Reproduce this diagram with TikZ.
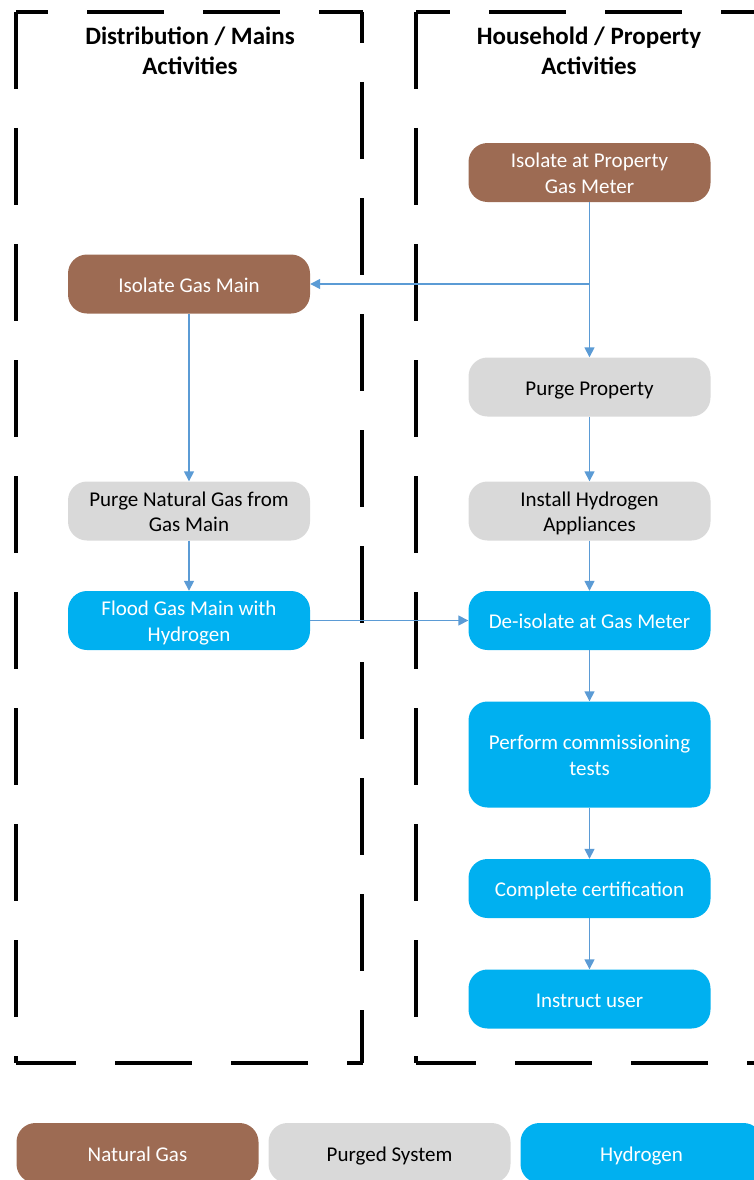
\documentclass[tikz,border=0pt]{standalone}
\usepackage{fontspec}
\setmainfont{Carlito}
\usetikzlibrary{arrows.meta}
\definecolor{ngbrown}{HTML}{9D6B53}
\definecolor{pgray}{HTML}{D9D9D9}
\definecolor{hcyan}{HTML}{00B0F0}
\definecolor{arrblue}{HTML}{5B9BD5}
\newcommand\onestrut{\rule[-5.5pt]{0pt}{27pt}}
\newcommand\topstrut{\rule{0pt}{21.5pt}}
\newcommand\botstrut{\rule[-5.5pt]{0pt}{5.5pt}}
\tikzset{
  stepbox/.style={rounded corners=19pt, minimum width=242pt, minimum height=59pt,
    align=center, inner sep=0pt, font=\fontsize{21}{25.5}\selectfont},
  ngbox/.style={stepbox, fill=ngbrown, text=white},
  pgbox/.style={stepbox, fill=pgray, text=black},
  hybox/.style={stepbox, fill=hcyan, text=white},
  arr/.style={draw=arrblue, line width=1.5pt, -{Triangle[length=10pt,width=10pt]}},
  border/.style={draw=black, line width=4pt, dash pattern=on 77pt off 39pt},
  titletext/.style={align=center, font=\fontsize{25}{30}\selectfont\bfseries}
}
\begin{document}
\begin{tikzpicture}[x=1pt,y=-1pt]
\useasboundingbox (0,0) rectangle (754,1180);
\clip (0,0) rectangle (754,1180);
% left dashed frame
\draw[border, dash phase=45] (16,12) -- (363,12);
\draw[border] (16,12) -- (16,1063);
\draw[border, dash phase=46] (362,12) -- (362,1063);
\draw[border, dash phase=17] (16,1063) -- (363,1063);
% right dashed frame
\draw[border, dash phase=43] (416,12) -- (780,12);
\draw[border] (416,12) -- (416,1063);
\draw[border, dash phase=17] (416,1063) -- (780,1063);
% titles
\node[titletext] (t1) at (190,51) {Distribution / Mains\\Activities};
\node[titletext] (t2) at (589,51) {Household / Property\\Activities};
% nodes
\node[ngbox] (m1) at (589.5,172.5) {\topstrut Isolate at Property\\\botstrut Gas Meter};
\node[ngbox] (igm) at (189,284) {\onestrut Isolate Gas Main};
\node[pgbox] (pp) at (589.5,387) {\onestrut Purge Property};
\node[pgbox] (pn) at (189,511) {\topstrut Purge Natural Gas from\\\botstrut Gas Main};
\node[pgbox] (ih) at (589.5,511) {\topstrut Install Hydrogen\\\botstrut Appliances};
\node[hybox] (fl) at (189,620.5) {\topstrut Flood Gas Main with\\\botstrut Hydrogen};
\node[hybox] (di) at (589.5,620.5) {\onestrut De-isolate at Gas Meter};
\node[hybox, minimum height=106pt] (pc) at (589.5,754.5) {\topstrut Perform commissioning\\\botstrut tests};
\node[hybox] (cc) at (589.5,888.5) {\onestrut Complete certification};
\node[hybox] (iu) at (589.5,999) {\onestrut Instruct user};
% legend
\node[ngbox, minimum height=60pt] (lng) at (137.5,1153) {\onestrut Natural Gas};
\node[pgbox, minimum height=60pt] (lps) at (389.5,1153) {\onestrut Purged System};
\node[hybox, minimum height=60pt] (lhy) at (641.5,1153) {\onestrut Hydrogen};
% connectors
\draw[arr] (m1.south) -- (pp.north);
\draw[arr] (m1.south |- igm.east) -- (igm.east);
\draw[arr] (igm.south) -- (pn.north);
\draw[arr] (pn.south) -- (fl.north);
\draw[arr] (fl.east) -- (di.west);
\draw[arr] (pp.south) -- (ih.north);
\draw[arr] (ih.south) -- (di.north);
\draw[arr] (di.south) -- (pc.north);
\draw[arr] (pc.south) -- (cc.north);
\draw[arr] (cc.south) -- (iu.north);
\end{tikzpicture}
\end{document}
